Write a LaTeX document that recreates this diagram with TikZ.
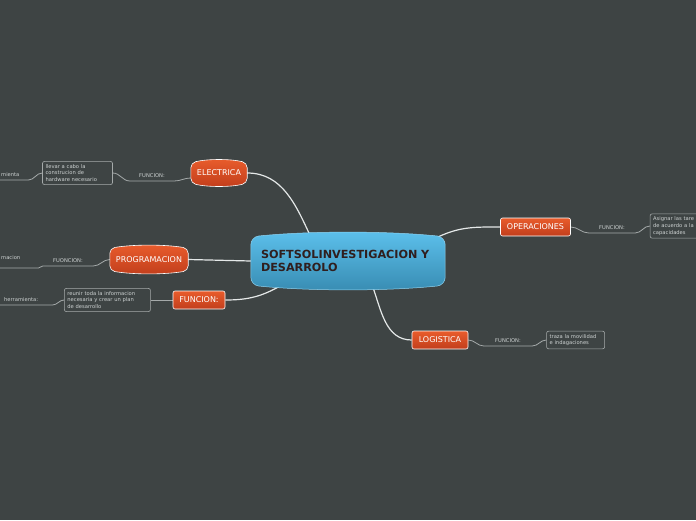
\documentclass[tikz,border=0pt]{standalone}
\usepackage{fontspec}
\setmainfont{DejaVu Sans}
\usetikzlibrary{positioning,calc,backgrounds}
\definecolor{mapBg}{RGB}{62,68,68}
\definecolor{topicRedTop}{RGB}{232,92,44}
\definecolor{topicRedBot}{RGB}{194,62,28}
\definecolor{centralTop}{RGB}{92,192,236}
\definecolor{centralBot}{RGB}{56,140,178}
\definecolor{centralInk}{RGB}{48,30,30}
\definecolor{branchInk}{RGB}{228,232,232}
\definecolor{detailInk}{RGB}{205,210,210}
\definecolor{lineGray}{RGB}{165,170,170}
\tikzset{
  central node/.style={minimum width=194pt,minimum height=48pt,inner xsep=10pt,text width=174pt,align=left,text=centralInk,font=\fontsize{11.2}{13.5}\selectfont\bfseries},
  central fill/.style={draw=centralTop!70!white,line width=0.5pt,top color=centralTop,bottom color=centralBot,rounded corners=8pt},
  topic node/.style={inner sep=0pt,text=white,font=\fontsize{8}{9.5}\selectfont},
  topic fill/.style={draw=white,line width=0.6pt,top color=topicRedTop,bottom color=topicRedBot,rounded corners=5pt},
  topic box/.style={topic node,draw=white,line width=0.6pt,rounded corners=2pt,top color=topicRedTop,bottom color=topicRedBot,minimum height=18pt},
  detail box/.style={draw=lineGray,line width=0.6pt,rounded corners=2pt,inner sep=3pt,align=left,text=detailInk,font=\fontsize{5.2}{6.6}\selectfont},
  line label/.style={inner xsep=1pt,inner ysep=3pt,text=detailInk,font=\fontsize{5.2}{6}\selectfont},
  branch line/.style={draw=branchInk,line width=1.2pt},
  sub line/.style={draw=lineGray,line width=0.8pt}
}
% node name, bulge, style
\newcommand\bulgebox[3]{%
  \path[#3] (#1.north west)
    .. controls ($(#1.north west)!.3!(#1.north east)+(0,-#2)$) and ($(#1.north west)!.7!(#1.north east)+(0,-#2)$) .. (#1.north east)
    -- (#1.south east)
    .. controls ($(#1.south west)!.7!(#1.south east)+(0,#2)$) and ($(#1.south west)!.3!(#1.south east)+(0,#2)$) .. (#1.south west)
    -- cycle;}
\begin{document}
\begin{tikzpicture}[x=1pt,y=-1pt]
  \useasboundingbox (0,0) rectangle (696,520);
  % main topics
  \node[central node] (central) at (348,261) {SOFTSOLINVESTIGACION Y\\DESARROLO};
  \node[topic node,minimum width=56pt,minimum height=20pt] (electrica) at (219,173) {ELECTRICA};
  \node[topic node,minimum width=78pt,minimum height=22pt] (programacion) at (149,259.5) {PROGRAMACION};
  \node[topic box,minimum width=52pt] (funcion) at (199,300) {FUNCION:};
  \node[topic box,minimum width=70pt] (operaciones) at (535.5,227) {OPERACIONES};
  \node[topic box,minimum width=56pt] (logistica) at (440,340) {LOGISTICA};
  % details
  \node[detail box,text width=64pt,left=78pt of electrica] (boxE) {llevar a cabo la\\construcion de\\hardware necesario};
  \node[detail box,text width=80pt,left=22pt of funcion] (boxF) {reunir toda la informacion\\necesaria y crear un plan\\de desarrollo};
  \node[detail box,text width=60pt,right=79pt of operaciones,yshift=1pt] (boxO) {Asignar las tare\\de acuerdo a la\\capacidades};
  \node[detail box,text width=52pt,right=78pt of logistica] (boxL) {traza la movilidad\\e indagaciones};
  % line labels
  \node[line label,anchor=south,minimum width=44pt] (fE) at (152,181) {FUNCION:};
  \node[line label,anchor=south west,text width=26pt] (hE) at (0,180) {mienta};
  \node[line label,anchor=south,minimum width=50pt] (fP) at (68,266) {FUONCION:};
  \node[line label,anchor=south west,text width=36pt,inner ysep=8pt] (mP) at (0,268) {macion};
  \node[line label,anchor=south west,inner xsep=4pt,text width=44pt] (hF) at (0,305) {herramienta:};
  \node[line label,anchor=south,minimum width=46pt] (fO) at (612,233) {FUNCION:};
  \node[line label,anchor=south,minimum width=48pt] (fL) at (508,346) {FUNCION:};
  \begin{scope}[on background layer]
    \fill[mapBg] (0,0) rectangle (696,520);
    % branches
    \draw[branch line] (central.147) to[out=115,in=0] (electrica.east);
    \draw[branch line] (central.west) -- (programacion.east);
    \draw[branch line] (central.200) to[out=210,in=0] (funcion.east);
    \draw[branch line] (central.15) to[out=25,in=180] (operaciones.west);
    \draw[branch line] (central.-45) to[out=-70,in=180] (logistica.west);
    % sub branches
    \draw[sub line] (electrica.190) to[out=180,in=0] (fE.south east) -- (fE.south west) to[out=180,in=0] (boxE.east);
    \draw[sub line] (boxE.west) to[out=180,in=0] (hE.south east) -- (hE.south west);
    \draw[sub line] (programacion.west) to[out=180,in=0] (fP.south east) -- (fP.south west) to[out=180,in=0] (mP.south east) -- (mP.south west);
    \draw[sub line] (funcion.west) -- (boxF.east);
    \draw[sub line] (boxF.west) to[out=180,in=0] (hF.south east) -- (hF.south west);
    \draw[sub line] (operaciones.east) to[out=0,in=180] (fO.south west) -- (fO.south east) to[out=0,in=180] (boxO.west);
    \draw[sub line] (logistica.east) to[out=0,in=180] (fL.south west) -- (fL.south east) to[out=0,in=180] (boxL.west);
    % shapes
    \bulgebox{central}{6}{central fill}
    \bulgebox{electrica}{4}{topic fill}
    \bulgebox{programacion}{4}{topic fill}
  \end{scope}
\end{tikzpicture}
\end{document}
